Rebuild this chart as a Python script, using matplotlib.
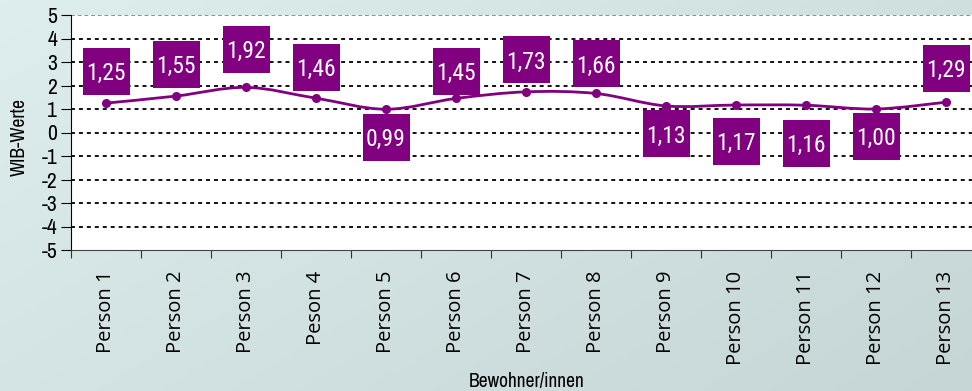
import numpy as np
import matplotlib.pyplot as plt
from matplotlib.path import Path
from matplotlib.patches import PathPatch, Rectangle
from matplotlib.transforms import ScaledTranslation

# WIB-Werte je Bewohner/in
personen = ['Person 1', 'Person 2', 'Person 3', 'Peson 4', 'Person 5', 'Person 6', 'Person 7',
            'Person 8', 'Person 9', 'Person 10', 'Person 11', 'Person 12', 'Person 13']
werte = [1.25, 1.55, 1.92, 1.46, 0.99, 1.45, 1.73, 1.66, 1.13, 1.17, 1.16, 1.00, 1.29]
beschriftung = ['1,25', '1,55', '1,92', '1,46', '0,99', '1,45', '1,73', '1,66',
                '1,13', '1,17', '1,16', '1,00', '1,29']

# Versatz der Wertekästen in Pixeln (positiv = nach unten)
versatz = [-32, -32, -38, -31, 28, -27, -32, -30, 28, 36, 38, 27, -34]

lila = '#800080'
schmal = ['Archivo Narrow', 'DejaVu Sans']

fig = plt.figure(figsize=(9.72, 3.91), dpi=100)

# Hintergrund mit leichtem Verlauf
bg = fig.add_axes([0, 0, 1, 1], zorder=-10)
gx, gy = np.meshgrid(np.linspace(0, 1, 200), np.linspace(0, 1, 100))
t = 0.6 * gx + 0.4 * gy
c0 = np.array([222, 237, 237]) / 255
c1 = np.array([198, 214, 214]) / 255
img = c0[None, None, :] * (1 - t[..., None]) + c1[None, None, :] * t[..., None]
bg.imshow(img, aspect='auto', extent=[0, 1, 0, 1], origin='upper')
bg.axis('off')

ax = fig.add_axes([71 / 972, 1 - 250 / 391, 910 / 972, 235 / 391])
ax.set_facecolor('white')
x = np.arange(len(werte))

# geglättete Linie (Catmull-Rom als Bezier-Kurven)
p = np.column_stack([x, werte]).astype(float)
verts = [tuple(p[0])]
codes = [Path.MOVETO]
for i in range(len(p) - 1):
    p0 = p[i - 1] if i > 0 else p[i]
    p3 = p[i + 2] if i + 2 < len(p) else p[i + 1]
    c1p = p[i] + (p[i + 1] - p0) / 6
    c2p = p[i + 1] - (p3 - p[i]) / 6
    verts += [tuple(c1p), tuple(c2p), tuple(p[i + 1])]
    codes += [Path.CURVE4] * 3
ax.add_patch(PathPatch(Path(verts, codes), fill=False, edgecolor=lila, lw=2, zorder=3))
ax.plot(x, werte, 'o', color=lila, ms=5.5, zorder=4)

# Wertekästen: 47x47 Pixel, um den Versatz verschoben
for xi, w, txt, dy in zip(x, werte, beschriftung, versatz):
    tr = fig.dpi_scale_trans + ScaledTranslation(xi, w, ax.transData)
    cy = -dy / fig.dpi
    ax.add_patch(Rectangle((-0.235, cy - 0.235), 0.47, 0.47, transform=tr,
                           fc=lila, ec='none', zorder=5, clip_on=False))
    ax.text(0, cy, txt, transform=tr, ha='center', va='center_baseline', color='white',
            fontsize=17, family=['Roboto Condensed', 'DejaVu Sans'], zorder=6)

ax.set_xlim(-0.5, len(werte) - 0.5)
ax.set_ylim(-5, 5)
ax.set_yticks(range(-5, 6))
ax.set_yticklabels([str(v) for v in range(-5, 6)], family=schmal, fontsize=15.5)
for v in range(-4, 5):
    ax.axhline(v, color='black', lw=1.3, ls=(0, (2.2, 2.2)), zorder=1)
ax.axhline(5, color='#888888', lw=1.3, ls=(0, (2.2, 1.5)), zorder=1)

ax.set_xticks(np.arange(len(werte) + 1) - 0.5)
ax.set_xticklabels([])
ax.set_xticks(x, minor=True)
ax.set_xticklabels(personen, minor=True, rotation=90, fontsize=14.5,
                   family=['Open Sans', 'DejaVu Sans'])
ax.tick_params(axis='x', which='minor', length=0, pad=15)
ax.tick_params(axis='x', which='major', length=6, color='#333333')
ax.tick_params(axis='y', length=7, pad=3)

for s in ['top', 'right']:
    ax.spines[s].set_visible(False)
ax.spines['left'].set_color('black')
ax.spines['bottom'].set_color('#444444')

fig.text(19 / 972, 1 - 137 / 391, 'WIB-Werte', rotation=90, ha='center', va='center',
         family=schmal, fontsize=14)
fig.text(527 / 972, 1 - 381 / 391, 'Bewohner/innen', ha='center', va='center',
         family=schmal, fontsize=14)

fig.savefig('out.png', dpi=100)
